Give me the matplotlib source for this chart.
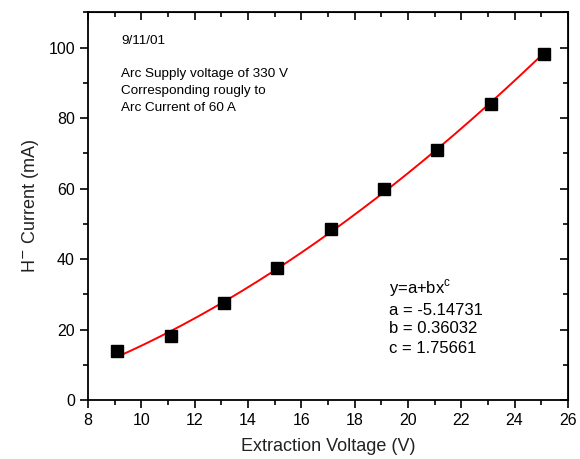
import numpy as np
import matplotlib
matplotlib.use("Agg")
import matplotlib.pyplot as plt
from matplotlib.ticker import MultipleLocator

plt.rcParams['font.family'] = ['Liberation Sans', 'DejaVu Sans']

voltage = [9.1, 11.1, 13.1, 15.1, 17.1, 19.1, 21.1, 23.1, 25.1]
current = [13.9, 18.2, 27.5, 37.6, 48.4, 60.0, 71.0, 84.1, 98.3]
fit_a, fit_b, fit_c = -5.14731, 0.36032, 1.75661

fig = plt.figure(figsize=(5.8, 4.59), dpi=100)
ax = fig.add_axes([0.152, 0.1285, 0.827, 0.8445])

xf = np.linspace(min(voltage), max(voltage), 200)
yf = fit_a + fit_b * xf ** fit_c
ax.plot(xf, yf, color='#ff0000', lw=1.4, zorder=2)
ax.plot(voltage, current, 's', color='black', ms=8, zorder=3)

ax.set_xlim(8, 26)
ax.set_ylim(0, 110)
ax.xaxis.set_major_locator(MultipleLocator(2))
ax.xaxis.set_minor_locator(MultipleLocator(1))
ax.yaxis.set_major_locator(MultipleLocator(20))
ax.yaxis.set_minor_locator(MultipleLocator(10))
ax.tick_params(which='both', direction='out', top=False, right=False, labelsize=11.5, width=1.2)
ax.tick_params(which='major', length=6)
ax.tick_params(which='minor', length=3.5)
for s in ax.spines.values():
    s.set_linewidth(1.3)

# mirrored inward ticks on top and right
axt = ax.secondary_xaxis('top')
axt.xaxis.set_major_locator(MultipleLocator(2))
axt.xaxis.set_minor_locator(MultipleLocator(1))
axt.tick_params(which='both', direction='in', labeltop=False, width=1.2)
axt.tick_params(which='major', length=6)
axt.tick_params(which='minor', length=3.5)
axr = ax.secondary_yaxis('right')
axr.yaxis.set_major_locator(MultipleLocator(20))
axr.yaxis.set_minor_locator(MultipleLocator(10))
axr.tick_params(which='both', direction='in', labelright=False, width=1.2)
axr.tick_params(which='major', length=6)
axr.tick_params(which='minor', length=3.5)

ax.set_xlabel('Extraction Voltage (V)', fontsize=13, color='#222222', labelpad=7)
ax.set_ylabel('H$^{-}$ Current (mA)', fontsize=13, color='#222222', labelpad=5)

ax.text(9.24, 101.9, '9/11/01', fontsize=9.7, va='center')
ax.text(9.24, 92.6, 'Arc Supply voltage of 330 V', fontsize=9.7, va='center')
ax.text(9.24, 87.7, 'Corresponding rougly to', fontsize=9.7, va='center')
ax.text(9.24, 82.9, 'Arc Current of 60 A', fontsize=9.7, va='center')

ax.text(19.29, 31.7, 'y=a+bx$^{\\mathregular{c}}$', fontsize=12, va='center')
ax.text(19.29, 25.5, 'a = -5.14731', fontsize=12, va='center')
ax.text(19.29, 20.3, 'b = 0.36032', fontsize=12, va='center')
ax.text(19.29, 14.7, 'c = 1.75661', fontsize=12, va='center')

fig.savefig('out.png', dpi=100)
